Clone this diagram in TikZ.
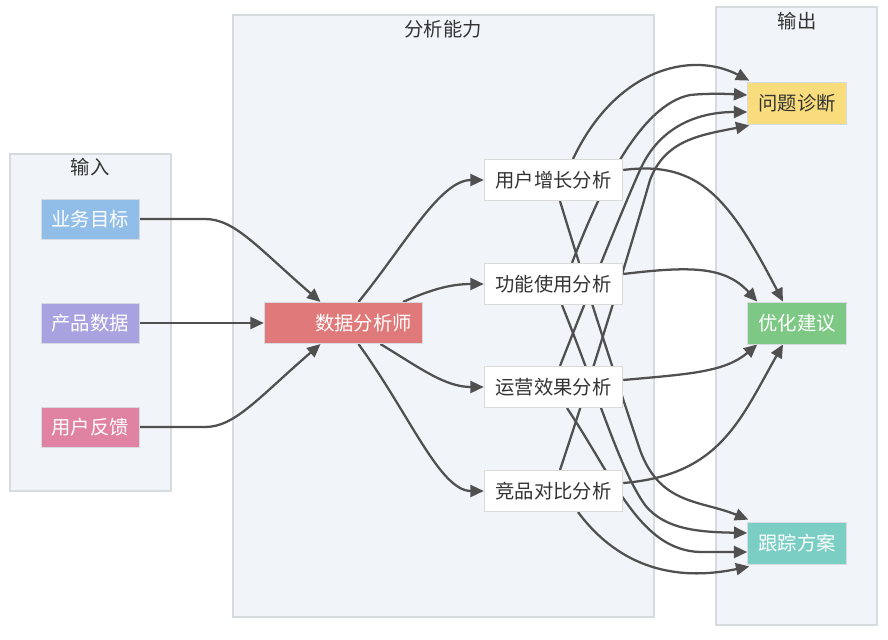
\documentclass[tikz,border=0pt]{standalone}
\usepackage{fontspec}
\setmainfont{Noto Sans CJK SC}
\usetikzlibrary{arrows.meta,calc}
\pgfdeclarelayer{bg}
\pgfdeclarelayer{edges}
\pgfsetlayers{bg,edges,main}
\definecolor{clfill}{RGB}{241,245,249}
\definecolor{cldraw}{RGB}{214,219,224}
\definecolor{txt}{RGB}{51,51,51}
\definecolor{edgec}{RGB}{80,80,80}
\definecolor{cblue}{RGB}{145,190,232}
\definecolor{cpurple}{RGB}{168,162,225}
\definecolor{cpink}{RGB}{224,130,162}
\definecolor{cred}{RGB}{224,122,122}
\definecolor{cyellow}{RGB}{249,221,124}
\definecolor{cgreen}{RGB}{125,200,132}
\definecolor{cteal}{RGB}{122,206,196}
\definecolor{boxdraw}{RGB}{218,218,218}
\tikzset{
  base/.style={inner sep=0pt, font=\fontsize{14.5pt}{17pt}\selectfont, draw=cldraw, line width=0.6pt},
  inbox/.style={base, minimum width=73.5pt, minimum height=30pt, text=white},
  dabox/.style={base, minimum width=119pt, minimum height=31pt, text=white, fill=cred},
  anabox/.style={base, minimum width=104pt, minimum height=31pt, text=txt, fill=white, draw=boxdraw},
  outbox/.style={base, minimum width=74pt, minimum height=31.5pt},
  cluster/.style={fill=clfill, draw=cldraw, line width=0.8pt},
  ctitle/.style={inner sep=0pt, font=\fontsize{14.5pt}{17pt}\selectfont, text=txt},
  conn/.style={draw=edgec, line width=1.7pt, -{Triangle[length=10pt,width=9pt]}}
}
\begin{document}
\begin{tikzpicture}[x=0.75pt,y=-0.75pt]
\useasboundingbox (0,0) rectangle (888,639);
\begin{pgfonlayer}{bg}
\fill[white] (0,0) rectangle (888,639);
\draw[cluster] (10,154) rectangle (171,491);
\draw[cluster] (233,15) rectangle (654,617);
\draw[cluster] (716,7) rectangle (877,625);
\end{pgfonlayer}
\node[ctitle] (t1) at (90,167) {输入};
\node[ctitle] (t2) at (443,29) {分析能力};
\node[ctitle] (t3) at (797,21) {输出};

\node[inbox, fill=cblue] (in1) at (90,219) {业务目标};
\node[inbox, fill=cpurple] (in2) at (90,323) {产品数据};
\node[inbox, fill=cpink] (in3) at (90,427) {用户反馈};

\node[dabox] (da) at (343.5,323) {};
\node[inner sep=0pt, font=\fontsize{14.5pt}{17pt}\selectfont, text=white, anchor=east] (dat) at (412,323) {数据分析师};

\node[anabox] (a1) at (553.5,180) {用户增长分析};
\node[anabox] (a2) at (553.5,284) {功能使用分析};
\node[anabox] (a3) at (553.5,387) {运营效果分析};
\node[anabox] (a4) at (553.5,491) {竞品对比分析};

\node[outbox, fill=cyellow, text=txt] (o1) at (797,103) {问题诊断};
\node[outbox, fill=cgreen, text=white] (o2) at (797,323) {优化建议};
\node[outbox, fill=cteal, text=white] (o3) at (797,543) {跟踪方案};

\begin{pgfonlayer}{edges}
% inputs to analyst
\draw[conn] (in1.east) -- (205,219) .. controls (235,219) and (258,248) .. ($(da.north)+(-23,0)$);
\draw[conn] (in2.east) -- (da.west);
\draw[conn] (in3.east) -- (205,427) .. controls (235,427) and (258,398) .. ($(da.south)+(-23,0)$);
% analyst to analyses
\draw[conn] ($(da.north)+(15,0)$) .. controls (405,245) and (440,180) .. (a1.west);
\draw[conn] ($(da.north)+(59.5,0)$) .. controls (430,290) and (450,284) .. (a2.west);
\draw[conn] ($(da.south)+(37,0)$) .. controls (420,368) and (445,387) .. (a3.west);
\draw[conn] ($(da.south)+(15,0)$) .. controls (410,415) and (440,491) .. (a4.west);
% to problem diagnosis
\draw[conn] ($(a1.north)+(19.5,0)$) .. controls (615,70) and (690,50) .. ($(o1.north west)+(2,-1)$);
\draw[conn] ($(a2.north)+(18.5,0)$) .. controls (600,190) and (640,105) .. (690,95) .. controls (710,93) and (730,94) .. ($(o1.west)+(0,-8)$);
\draw[conn] ($(a3.north)+(6.5,0)$) .. controls (590,290) and (620,215) .. (640,170) .. controls (660,125) and (700,112) .. ($(o1.west)+(0,9)$);
\draw[conn] ($(a4.north)+(6.5,0)$) .. controls (590,380) and (630,250) .. (650,180) .. controls (665,140) and (700,135) .. ($(o1.south west)+(2,1)$);
% to optimization
\draw[conn] ($(a1.east)+(0,-10)$) .. controls (700,160) and (730,200) .. ($(o2.north)+(-14,0)$);
\draw[conn] ($(a2.east)+(0,-10)$) .. controls (690,266) and (725,266) .. ($(o2.north west)+(10,0)$);
\draw[conn] ($(a3.east)+(0,-7)$) .. controls (690,374) and (725,372) .. ($(o2.south west)+(10,0)$);
\draw[conn] ($(a4.east)+(0,-8)$) .. controls (720,475) and (740,420) .. ($(o2.south)+(-14,0)$);
% to tracking
\draw[conn] ($(a1.south)+(6.5,0)$) .. controls (590,300) and (620,390) .. (640,450) .. controls (660,505) and (700,500) .. ($(o3.north west)+(1,-2)$);
\draw[conn] ($(a2.south)+(8.5,0)$) .. controls (600,400) and (620,470) .. (645,505) .. controls (665,530) and (700,532) .. ($(o3.west)+(0,-10)$);
\draw[conn] ($(a3.south)+(13.5,0)$) .. controls (615,480) and (640,550) .. (700,552) -- ($(o3.west)+(0,9)$);
\draw[conn] ($(a4.south)+(24.5,0)$) .. controls (610,555) and (660,585) .. ($(o3.south west)+(2,2)$);
\end{pgfonlayer}
\end{tikzpicture}
\end{document}
